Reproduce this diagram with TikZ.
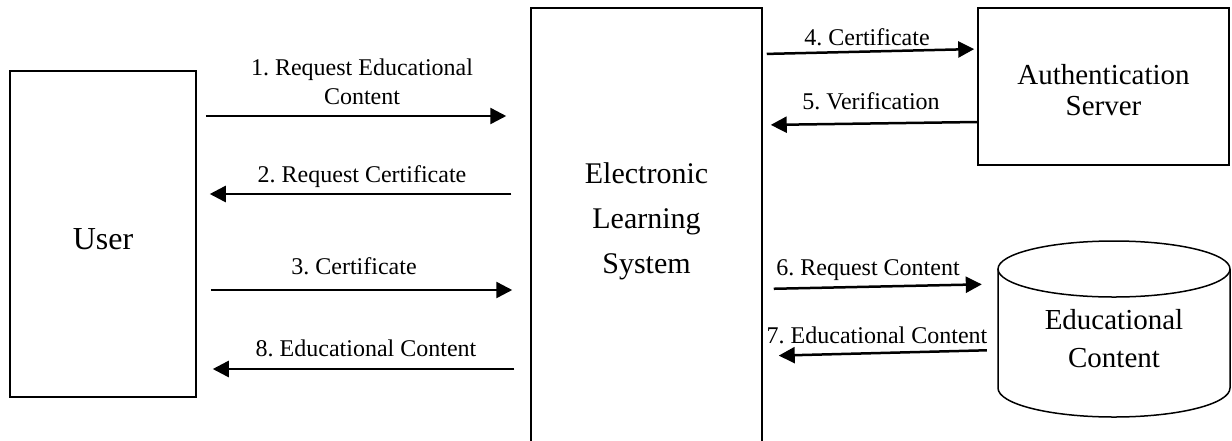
\documentclass[tikz,border=0pt]{standalone}
\usepackage{fontspec}
\setmainfont{Liberation Serif}
\usetikzlibrary{arrows.meta}
\frenchspacing
\begin{document}
\frenchspacing
\begin{tikzpicture}[x=1pt,y=-1pt,
  box/.style={draw, line width=1.5pt, inner sep=0pt, align=center},
  arr/.style={line width=2.5pt, -{Triangle[length=16pt,width=16pt]}},
  lbl/.style={font=\fontsize{24}{29}\selectfont, inner sep=0pt, anchor=base, align=center},
  shapeline/.style={line width=1.5pt}]
\useasboundingbox (0,0) rectangle (1232,440);
\clip (0,0) rectangle (1232,440);
% boxes
\node[box, minimum width=186pt, minimum height=326pt] (user) at (103,234) {};
\node[inner sep=0pt, font=\fontsize{32}{38}\selectfont] (usertext) at (103,239) {User};
\node[box, minimum width=231pt, minimum height=440pt] (els) at (646.5,228) {};
\node[inner sep=0pt, align=center, font=\fontsize{30}{45}\selectfont] (elstext) at (646.5,221) {Electronic\\Learning\\System};
\node[box, minimum width=251pt, minimum height=157pt] (auth) at (1103.5,86.5) {};
\node[inner sep=0pt, align=center, font=\fontsize{29}{31}\selectfont] (authtext) at (1103.5,90) {Authentication\\Server};
\node[inner sep=0pt, minimum width=232pt, align=center, font=\fontsize{29}{38}\selectfont] (db) at (1114,339) {Educational\\Content};
\draw[shapeline] (998,269) -- (998,388) arc[start angle=180, end angle=0, x radius=116, y radius=29] -- (1230,269);
\draw[shapeline] (1114,269) ellipse[x radius=116, y radius=28];
% arrows left
\draw[arr, shorten <=9pt, shorten >=24pt] (user.east |- 0,116) -- (els.west |- 0,116);
\draw[arr, shorten <=19pt, shorten >=13pt] (els.west |- 0,194) -- (user.east |- 0,194);
\draw[arr, shorten <=14pt, shorten >=18pt] (user.east |- 0,290) -- (els.west |- 0,290);
\draw[arr, shorten <=16pt, shorten >=16pt] (els.west |- 0,369) -- (user.east |- 0,369);
% arrows right
\draw[arr, shorten <=4pt, shorten >=3pt] (els.east |- 0,54) -- (auth.west |- 0,49);
\draw[arr, shorten <=0pt, shorten >=8pt] (auth.west |- 0,122) -- (els.east |- 0,125);
\draw[arr, shorten <=11pt, shorten >=16pt] (els.east |- 0,289) -- (db.west |- 0,284);
\draw[arr, shorten <=11pt, shorten >=16pt] (db.west |- 0,350) -- (els.east |- 0,356);
% labels
\node[lbl] (l1) at (362,104) {1. Request Educational\\Content};
\node[lbl] (l2) at (362,182) {2. Request Certificate};
\node[lbl] (l3) at (354,274) {3. Certificate};
\node[lbl] (l8) at (366,356) {8. Educational Content};
\node[lbl] (l4) at (867,45) {4. Certificate};
\node[lbl] (l5) at (871,109) {5. Verification};
\node[lbl] (l6) at (868,275) {6. Request Content};
\node[lbl] (l7) at (877,343) {7. Educational Content};
\end{tikzpicture}
\end{document}
